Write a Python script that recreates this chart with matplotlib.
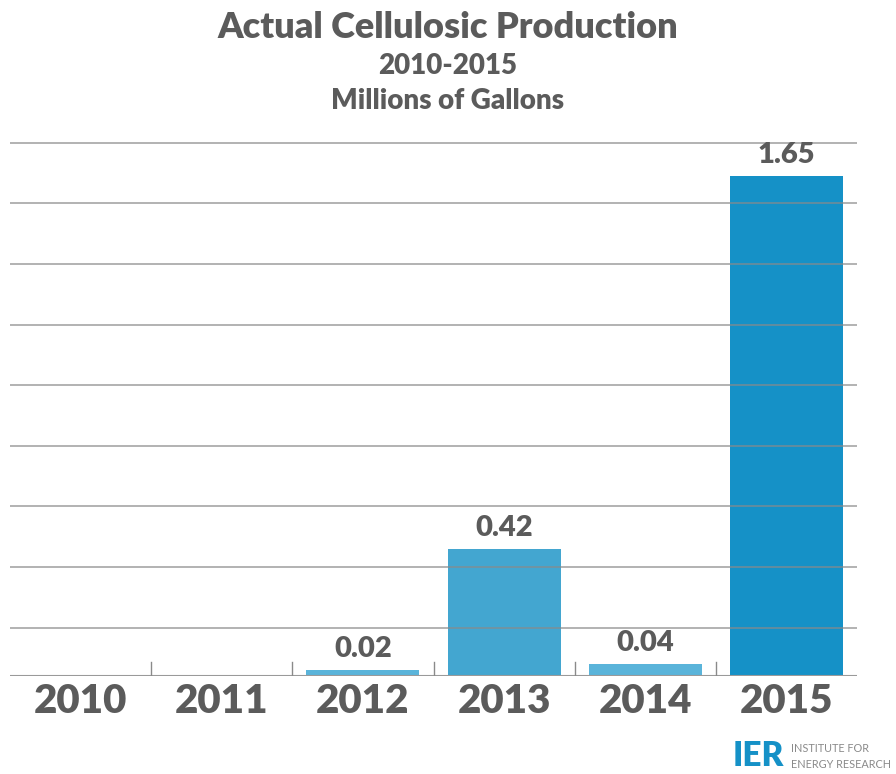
import matplotlib.pyplot as plt
import numpy as np

anios = ['2010', '2011', '2012', '2013', '2014', '2015']
produccion = [0.0, 0.0, 0.02, 0.42, 0.04, 1.65]
etiquetas = ['', '', '0.02', '0.42', '0.04', '1.65']
colores = ['#5ab4da', '#5ab4da', '#5ab4da', '#43a6d0', '#5ab4da', '#1591c7']
lineas_guia = [0.16, 0.36, 0.56, 0.76, 0.96, 1.16, 1.36, 1.56, 1.76]

GRIS = '#5b5b5b'
plt.rcParams['font.family'] = ['Lato', 'DejaVu Sans']

fig = plt.figure(figsize=(8.96, 7.74), dpi=100)
ax = fig.add_axes([10 / 896, 98 / 774, 847 / 896, 0.6968])

x = np.arange(len(anios))
ax.bar(x, produccion, width=0.8, color=colores, zorder=2)

for y in lineas_guia:
    ax.axhline(y, color='#8a8a8a', lw=1.3, alpha=0.7, zorder=3)
ax.axhline(0, color='#9a9a9a', lw=1.5, zorder=4)

# separadores entre categorias
for xs in x[:-1] + 0.5:
    ax.plot([xs, xs], [0, 0.045], color='#8a8a8a', lw=1.0, zorder=4)

for xi, v, t in zip(x, produccion, etiquetas):
    if t:
        ax.text(xi, v + 0.025, t, ha='center', va='bottom', fontsize=21,
                fontweight='heavy', color=GRIS)

ax.set_xlim(-0.5, 5.5)
ax.set_ylim(0, 1.78)
ax.set_xticks(x)
ax.set_xticklabels(anios, fontsize=29, fontweight='heavy', color=GRIS)
ax.tick_params(axis='x', length=0, pad=5)
ax.set_yticks([])
for s in ax.spines.values():
    s.set_visible(False)

fig.text(0.5, 1 - 28 / 774, 'Actual Cellulosic Production', ha='center', va='center',
         fontsize=26, fontweight='heavy', color=GRIS)
fig.text(0.5, 1 - 66 / 774, '2010-2015', ha='center', va='center',
         fontsize=20, fontweight='heavy', color=GRIS)
fig.text(0.5, 1 - 101 / 774, 'Millions of Gallons', ha='center', va='center',
         fontsize=20, fontweight='heavy', color=GRIS)

# logo IER
fig.text(784 / 896, 1 - 756 / 774, 'IER', ha='right', va='center', fontsize=24,
         fontweight='heavy', color='#1591c7')
fig.text(791 / 896, 1 - 749 / 774, 'INSTITUTE FOR', ha='left', va='center',
         fontsize=7.8, color='#8a8a8a')
fig.text(791 / 896, 1 - 764 / 774, 'ENERGY RESEARCH', ha='left', va='center',
         fontsize=7.8, color='#8a8a8a')

fig.savefig('out.png', dpi=100)
